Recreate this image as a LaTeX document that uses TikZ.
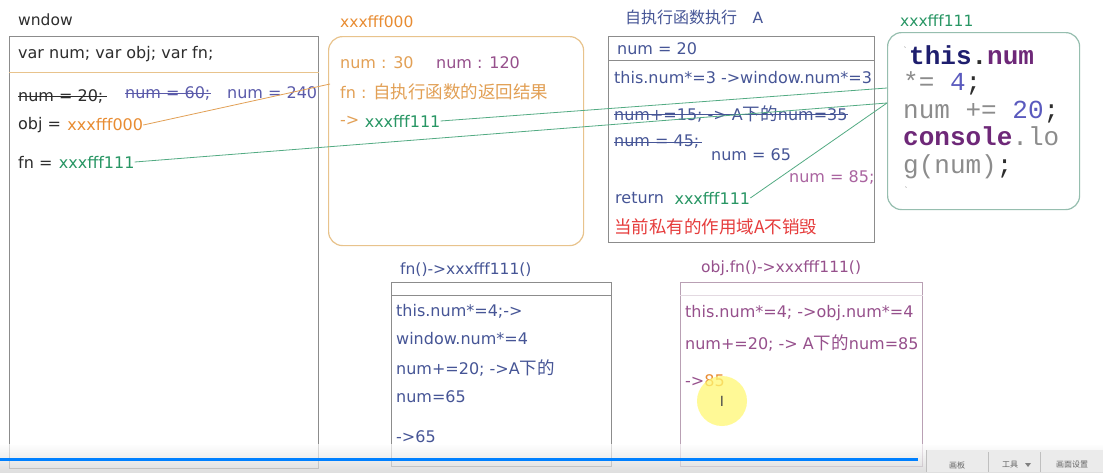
\documentclass[tikz,border=0pt]{standalone}
\usepackage{fontspec}
\setmainfont{DejaVu Sans}
\newfontfamily\cjkf{Noto Sans CJK SC}
\newfontfamily\monof{Liberation Mono}
\newcommand\zhs[1]{{\cjkf\fontsize{17.5}{18}\selectfont #1}}
\usetikzlibrary{calc}
\definecolor{txtk}{RGB}{45,45,45}
\definecolor{orgT}{RGB}{232,140,50}
\definecolor{orgL}{RGB}{226,160,85}
\definecolor{grnT}{RGB}{40,150,100}
\definecolor{bluev}{RGB}{90,90,170}
\definecolor{slate}{RGB}{70,85,150}
\definecolor{purp}{RGB}{150,80,140}
\definecolor{redT}{RGB}{230,60,60}
\definecolor{pinkT}{RGB}{170,100,160}
\definecolor{boxg}{RGB}{140,140,140}
\definecolor{boxo}{RGB}{232,195,140}
\definecolor{boxgr}{RGB}{150,190,175}
\definecolor{boxp}{RGB}{185,160,180}
\definecolor{navy}{RGB}{30,30,110}
\definecolor{codeg}{RGB}{140,140,140}
\definecolor{codep}{RGB}{110,40,120}
\definecolor{codeb}{RGB}{90,90,190}
\definecolor{barblue}{RGB}{0,128,255}
\tikzset{
  txt/.style={anchor=west, inner sep=0pt, font=\fontsize{16}{17}\selectfont},
  ttl/.style={anchor=west, inner sep=0pt, font=\fontsize{15.5}{17}\selectfont},
  code/.style={anchor=west, inner sep=0pt, text height=16pt, text depth=4pt, font=\monof\fontsize{26}{28}\selectfont},
  sqbox/.style={draw=boxg, line width=1.2pt, anchor=north west, inner sep=0pt},
  rbox/.style={anchor=north west, inner sep=0pt, rounded corners=14pt, line width=1.2pt},
  strike/.style={line width=0.8pt},
  link/.style={line width=0.8pt}
}
\begin{document}
\begin{tikzpicture}[x=1pt,y=-1pt]
\useasboundingbox (0,0) rectangle (1103,472);
\fill[white] (0,0) rectangle (1103,472);

% ---------- window ----------
\node[ttl, text=txtk] (wt) at (18,20) {wndow};
\node[sqbox, minimum width=309pt, minimum height=432pt] (win) at (9,36) {};
\draw[boxo, line width=1pt] ([yshift=-36pt]win.north west) -- ([yshift=-36pt]win.north east);
\node[txt, text=txtk] (vdecl) at (18,54) {var num; var obj; var fn;};
\node[txt, text=txtk] (n20) at (18,96) {num = 20;};
\draw[strike, txtk] (n20.west) -- ([xshift=3pt]n20.east);
\node[txt, text=bluev] (n60) at (125,93) {num = 60;};
\draw[strike, bluev] (n60.west) -- (n60.east);
\node[txt, text=bluev] (n240) at (227,93) {num = 240};
\node[txt, text=txtk] (objl) at (18,125) {obj =};
\node[txt, text=orgT, anchor=west] (ov) at ([xshift=6pt]objl.east) {xxxfff000};
\node[txt, text=txtk] (fnl) at (18,162) {fn =};
\node[txt, text=grnT, anchor=west] (fv) at ([xshift=6pt]fnl.east) {xxxfff111};

% ---------- xxxfff000 ----------
\node[ttl, text=orgT] (t000) at (340,22) {xxxfff000};
\node[rbox, draw=boxo, minimum width=255pt, minimum height=209pt] (ob) at (328,36) {};
\node[txt, text=orgL] (o30) at (340,63) {num : 30};
\node[txt, text=purp] (o120) at (436,63) {num : 120};
\node[txt, text=orgL] (ofn) at (340,92) {fn : \zhs{自执行函数的返回结果}};
\node[txt, text=orgL] (oar) at (340,121) {->};
\node[txt, text=grnT, anchor=west] (ox) at ([xshift=5pt]oar.east) {xxxfff111};

% ---------- A ----------
\node[ttl, text=slate] (tA) at (625,17) {{\cjkf\fontsize{16}{17}\selectfont 自执行函数执行}\quad A};
\node[sqbox, minimum width=266pt, minimum height=206pt] (Abox) at (608,36) {};
\draw[boxg, line width=1pt] ([yshift=-24pt]Abox.north west) -- ([yshift=-24pt]Abox.north east);
\node[txt, text=slate] (a20) at (617,49) {num = 20};
\node[txt, text=slate] (a1) at (614,78) {this.num*=3 ->window.num*=3};
\node[txt, text=slate] (a2) at (614,114) {num+=15; -> A\zhs{下的}num=35};
\draw[strike, slate] (a2.west) -- (a2.east);
\node[txt, text=slate] (a3) at (614,142) {num = 45;};
\draw[strike, slate] (a3.west) -- ([xshift=2pt]a3.east);
\node[txt, text=slate] (a4) at (711,155) {num = 65};
\node[txt, text=pinkT] (a5) at (789,177) {num = 85;};
\node[txt, text=slate] (aret) at (615,198) {return};
\node[txt, text=grnT, anchor=west] (ax) at ([xshift=10pt]aret.east) {xxxfff111};
\node[txt, text=redT] (ared) at (614,227) {\zhs{当前私有的作用域A不销毁}};

% ---------- xxxfff111 ----------
\node[ttl, text=grnT] (t111) at (900,21) {xxxfff111};
\node[rbox, draw=boxgr, minimum width=192pt, minimum height=177pt] (fb) at (887,32) {};
\node[inner sep=0pt, text=codeg, font=\monof\fontsize{9}{9}\selectfont] (c0) at (905,50) {\textasciigrave};
\node[code] (c1) at (909,58) {\bfseries\textcolor{navy}{this}\textcolor{txtk}{.}\textcolor{codep}{num}};
\node[code] (c2) at (903,84) {\textcolor{codeg}{*=} \textcolor{codeb}{4}\textcolor{txtk}{;}};
\node[code] (c3) at (903,112) {\textcolor{codeg}{num +=} \textcolor{codeb}{20}\textcolor{txtk}{;}};
\node[code] (c4) at (903,139) {\textcolor{codep}{\bfseries console}\textcolor{codeg}{.lo}};
\node[code] (c5) at (903,167) {\textcolor{codeg}{g(num)}\textcolor{txtk}{;}};
\node[inner sep=0pt, text=codeg, font=\monof\fontsize{9}{9}\selectfont] (c6) at (906,190) {\textasciigrave};

% ---------- fn() box ----------
\node[ttl, text=slate] (tfn) at (400,270) {fn()->xxxfff111()};
\node[sqbox, minimum width=220pt, minimum height=184pt] (fnb) at (391,282) {};
\draw[boxg, line width=1pt] ([yshift=-13pt]fnb.north west) -- ([yshift=-13pt]fnb.north east);
\node[txt, text=slate] (f1) at (396,311) {this.num*=4;->};
\node[txt, text=slate] (f2) at (396,339) {window.num*=4};
\node[txt, text=slate] (f3) at (396,368) {num+=20; ->A\zhs{下的}};
\node[txt, text=slate] (f4) at (396,397) {num=65};
\node[txt, text=slate] (f5) at (396,437) {->65};

% ---------- obj.fn() box ----------
\node[ttl, text=purp] (tob) at (701,268) {obj.fn()->xxxfff111()};
\node[sqbox, draw=boxp, minimum width=242pt, minimum height=184pt] (objb) at (680,282) {};
\draw[boxp!40, line width=1pt] ([yshift=-13pt]objb.north west) -- ([yshift=-13pt]objb.north east);
\node[txt, text=purp] (p1) at (685,313) {this.num*=4; ->obj.num*=4};
\node[txt, text=purp] (p2) at (685,343) {num+=20; -> A\zhs{下的}num=85};
\node[txt, text=purp] (p3) at (685,381) {->\textcolor{orgT}{85}};
\fill[yellow!55!white, opacity=0.75] (722,401) circle (25pt);
\node[inner sep=0pt, font=\fontsize{14}{14}\selectfont, text=black!70] (cur) at (722,401) {I};

% ---------- connectors ----------
\coordinate (oin) at (330,84);
\coordinate (fin1) at (887,88);
\coordinate (fin2) at (887,103);
\draw[link, orgL] (ov.east) -- (oin);
\draw[link, grnT!80] (ox.east) -- (fin1);
\draw[link, grnT!80] (fv.east) -- (fin2);
\draw[link, grnT!80] (ax.east) -- (fin2);

% ---------- bottom bar ----------
\shade[top color=white, bottom color=black!18, opacity=0.7] (0,444) rectangle (1103,472);
\fill[black!8] (926,450) rectangle (1103,472);
\draw[black!25] (926,450) -- (926,472);
\draw[black!25] (988,452) -- (988,472);
\draw[black!25] (1040,452) -- (1040,472);
\draw[line width=3pt, barblue] (0,459) -- (918,459);
\node[inner sep=0pt, font=\cjkf\fontsize{8}{8}\selectfont, text=black!60] (tb1) at (957,465) {画板};
\node[inner sep=0pt, font=\cjkf\fontsize{8}{8}\selectfont, text=black!60] (tb2) at (1010,465) {工具};
\fill[black!50] (1025,463) -- (1031,463) -- (1028,467) -- cycle;
\node[inner sep=0pt, font=\cjkf\fontsize{8}{8}\selectfont, text=black!60] (tb3) at (1072,465) {画面设置};
\end{tikzpicture}
\end{document}
